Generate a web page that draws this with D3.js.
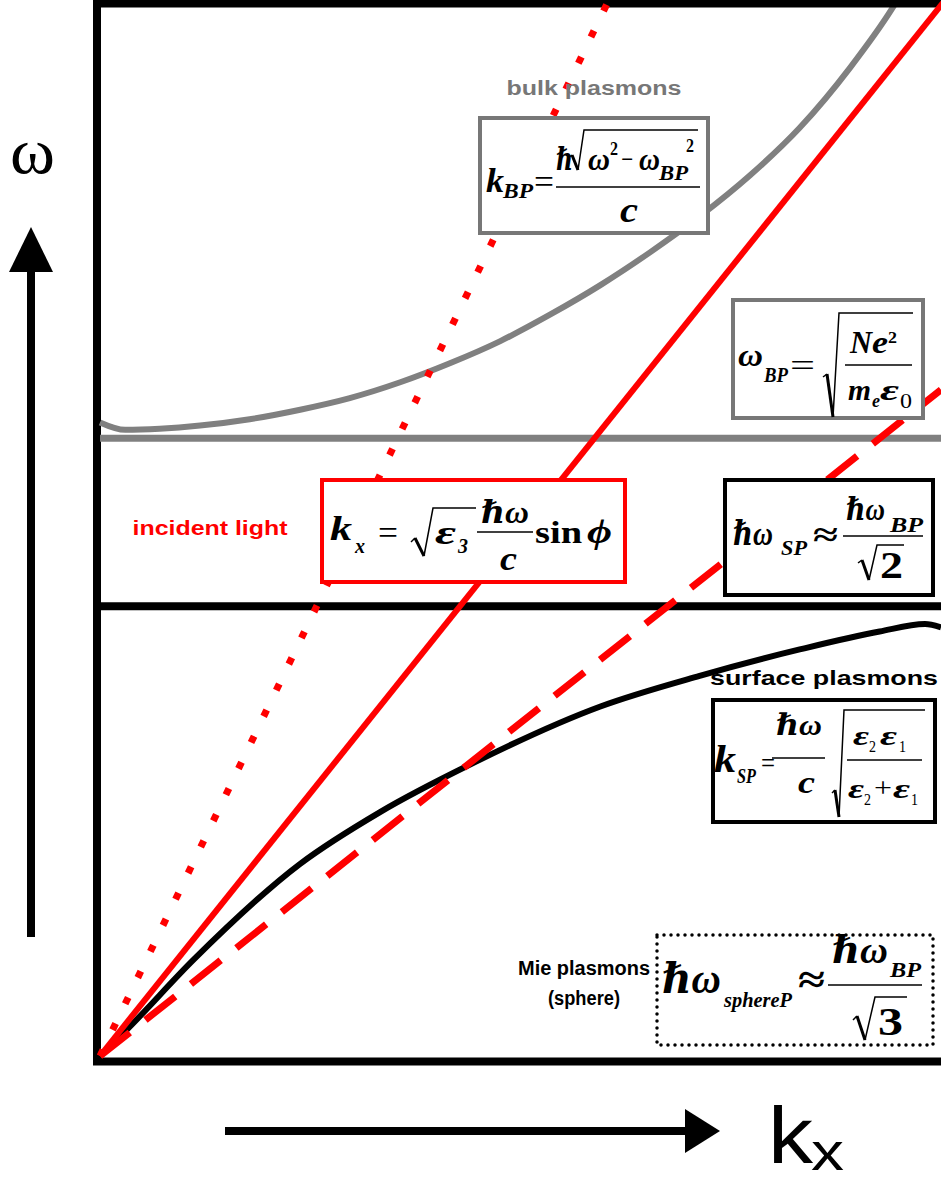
<!DOCTYPE html>
<html><head><meta charset="utf-8">
<script src="https://cdn.jsdelivr.net/npm/d3@7"></script>
<style>html,body{margin:0;padding:0;background:#fff;}svg{display:block;}</style>
</head><body>
<svg id="c" width="941" height="1183"></svg>
<script>
// ---- data (k_x, omega in arbitrary units) ----
const kDomain = [0, 10];
const omegaDomain = [0, 10];
const lightSolid  = [[0, 0], [10.05, 10]];   // incident light
const lightDotted = [[0, 0], [6.05, 10]];    // light line, steep
const lightDashed = [[0, 0], [10, 6.31]];    // light line, shallow
const bulkLevel = 5.85;                        // omega_BP
const surfaceLevel = 4.26;                     // omega_SP
const bulkCurve = [[0.0, 6.00], [0.30, 5.93], [0.71, 5.94], [1.19, 5.97], [1.78, 6.03],
  [2.38, 6.12], [2.97, 6.23], [3.57, 6.38], [4.16, 6.56], [4.76, 6.77], [5.35, 7.02],
  [5.95, 7.30], [6.54, 7.61], [7.13, 7.95], [7.73, 8.34], [8.32, 8.79], [8.92, 9.36],
  [9.42, 9.92], [9.52, 10.05]];
const surfaceCurve = [[0, 0], [0.32, 0.25], [1.11, 0.91], [2.38, 1.82], [3.33, 2.31],
  [4.40, 2.76], [5.95, 3.31], [7.13, 3.60], [8.32, 3.85], [9.27, 4.02], [9.81, 4.09], [10.0, 4.06]];

const svg = d3.select('#c');
const x = d3.scaleLinear().domain(kDomain).range([100, 941]);
const y = d3.scaleLinear().domain(omegaDomain).range([1056, 0]);
const line = d3.line().x(d => x(d[0])).y(d => y(d[1]));
const smooth = d3.line().x(d => x(d[0])).y(d => y(d[1])).curve(d3.curveMonotoneX);

// frame
const frame = svg.append('g').attr('stroke', '#000').attr('stroke-width', 8);
frame.append('line').attr('x1', 97).attr('x2', 97).attr('y1', 0).attr('y2', 1065);
frame.append('line').attr('x1', 93).attr('x2', 941).attr('y1', 1061.5).attr('y2', 1061.5);

// horizontal levels
svg.append('line').attr('x1', x(0)).attr('x2', x(10)).attr('y1', y(bulkLevel)).attr('y2', y(bulkLevel))
  .attr('stroke', '#808080').attr('stroke-width', 7);
svg.append('line').attr('x1', x(0)).attr('x2', x(10)).attr('y1', y(surfaceLevel)).attr('y2', y(surfaceLevel))
  .attr('stroke', '#000').attr('stroke-width', 8);

// curves
svg.append('path').attr('d', smooth(bulkCurve)).attr('fill', 'none').attr('stroke', '#808080').attr('stroke-width', 6);
svg.append('path').attr('d', smooth(surfaceCurve)).attr('fill', 'none').attr('stroke', '#000').attr('stroke-width', 6);
// top border over curve ends
svg.append('line').attr('x1', 93).attr('x2', 941).attr('y1', 3.5).attr('y2', 3.5).attr('stroke', '#000').attr('stroke-width', 8);

// light lines
svg.append('path').attr('d', line(lightDotted)).attr('fill', 'none').attr('stroke', '#ff0000')
  .attr('stroke-width', 7).attr('stroke-dasharray', '7 22');
svg.append('path').attr('d', line(lightDashed)).attr('fill', 'none').attr('stroke', '#ff0000')
  .attr('stroke-width', 7).attr('stroke-dasharray', '38 20');
svg.append('path').attr('d', line(lightSolid)).attr('fill', 'none').attr('stroke', '#ff0000')
  .attr('stroke-width', 6);

// boxes
function box(x0, y0, x1, y1, col, dash) {
  const r = svg.append('rect').attr('x', x0).attr('y', y0).attr('width', x1 - x0).attr('height', y1 - y0)
    .attr('fill', '#fff').attr('stroke', col).attr('stroke-width', dash ? 3.5 : 4);
  if (dash) r.attr('stroke-dasharray', '0 7').attr('stroke-linecap', 'round');
}
box(480, 118, 708, 233, '#777');
box(733, 300, 923, 418, '#777');
box(322, 480, 625, 582, '#ff0000');
box(725, 480, 933, 595, '#000');
box(713, 700, 935, 822, '#000');
box(657, 935, 933, 1045, '#000', true);

// text helpers
const SERIF = '"Liberation Serif","Times New Roman","DejaVu Serif",serif';
const SANS = '"Liberation Sans",Arial,"DejaVu Sans",sans-serif';
function T(x0, y0, s, size, w, o = {}) {
  const t = svg.append('text').attr('x', x0).attr('y', y0).attr('font-size', size)
    .attr('font-family', o.fam || SERIF).attr('font-weight', o.w || 'bold')
    .attr('font-style', o.st || 'italic').attr('fill', o.f || '#000')
    .attr('text-anchor', o.a || 'start').text(s);
  if (w) t.attr('textLength', w).attr('lengthAdjust', 'spacingAndGlyphs');
  return t;
}
function bar(x0, x1, yy) {
  svg.append('line').attr('x1', x0).attr('x2', x1).attr('y1', yy).attr('y2', yy)
    .attr('stroke', '#000').attr('stroke-width', 1.6);
}
function rad(p) { // p: [tick0, tick1, bottom, top, end]
  svg.append('path').attr('d', `M${p[0]}L${p[1]}`).attr('stroke', '#000').attr('stroke-width', 1.5).attr('fill', 'none');
  svg.append('path').attr('d', `M${p[1]}L${p[2]}`).attr('stroke', '#000').attr('stroke-width', 3).attr('fill', 'none');
  svg.append('path').attr('d', `M${p[2]}L${p[3]}L${p[4]}`).attr('stroke', '#000').attr('stroke-width', 1.5).attr('fill', 'none');
}
const up = {st: 'normal', w: 'normal'};
const ub = {st: 'normal', w: 'bold'};
const lab = (c, a) => ({fam: SANS, st: 'normal', f: c, a: a || 'middle'});

// labels
T(594, 95, 'bulk plasmons', 20, 175, lab('#777'));
T(824, 685, 'surface plasmons', 21, 228, lab('#000'));
T(210, 535, 'incident light', 21, 155, lab('#ff0000'));
T(584, 975, 'Mie plasmons', 20, 132, lab('#000'));
T(584, 1005, '(sphere)', 20, 72, lab('#000'));

// eq1 k_BP
T(486, 192, 'k', 34, 18); T(503, 198, 'BP', 22, 30);
T(534, 193, '=', 34, 20, up);
T(556, 170, 'ℏ', 32, 17);
rad([[568, 158], [572, 155], [578, 170], [584, 130], [698, 130]]);
T(588, 170, 'ω', 32, 22); T(610, 155, '2', 18, 8, ub);
T(621, 170, '−', 32, 12, up);
T(639, 170, 'ω', 32, 21); T(659, 180, 'BP', 20, 29); T(686, 152, '2', 18, 8, ub);
bar(556, 700, 187);
T(620, 222, 'c', 36, 18);

// eq2 omega_BP
T(738, 366, 'ω', 32, 25); T(764, 382, 'BP', 20, 24);
T(790, 376, '=', 32, 25, up);
rad([[823, 377], [827, 374], [833, 417], [839, 313], [913, 313]]);
T(850, 353, 'N', 32, 22); T(872, 353, 'e', 32, 16); T(888, 343, '2', 16, 9, ub);
bar(845, 912, 365);
T(848, 400, 'm', 30, 23); T(872, 407, 'e', 18, 8); T(880, 400, 'ε', 30, 19); T(900, 408, '0', 20, 12, up);

// eq3 k_x
T(330, 540, 'k', 34, 22); T(355, 553, 'x', 22, 10);
T(378, 544, '=', 34, 20, up);
rad([[411, 542], [415, 538], [424, 556], [433, 508], [476, 508]]);
T(435, 544, 'ε', 34, 21); T(458, 553, '3', 22, 10);
T(481, 523, 'ℏω', 32, 48);
bar(477, 533, 532);
T(500, 570, 'c', 34, 17);
T(535, 543, 'sin', 32, 47, ub);
T(587, 543, 'ϕ', 34, 25);

// eq4 omega_SP
T(733, 545, 'ℏω', 34, 40); T(781, 555, 'SP', 22, 26);
T(813, 546, '≈', 34, 25, ub);
T(846, 520, 'ℏω', 32, 39); T(890, 532, 'BP', 20, 33);
bar(843, 923, 536);
rad([[858, 563], [862, 560], [869, 580], [877, 545], [904, 545]]);
T(880, 578, '2', 38, 23, ub);

// eq5 k_SP
T(714, 772, 'k', 38, 22); T(737, 783, 'SP', 22, 19);
T(761, 773, '=', 30, 14, up);
T(776, 735, 'ℏω', 30, 46);
bar(772, 825, 758);
T(798, 793, 'c', 32, 17);
rad([[832, 793], [835, 790], [839, 817], [844, 710], [925, 710]]);
T(853, 745, 'ε', 28, 16); T(869, 752, '2', 16, 7, up); T(880, 745, 'ε', 28, 17); T(899, 752, '1', 16, 7, up);
bar(847, 922, 760);
T(848, 798, 'ε', 28, 16); T(864, 805, '2', 16, 7, up); T(874, 797, '+', 28, 18, up);
T(893, 798, 'ε', 28, 17); T(911, 805, '1', 16, 7, up);

// eq6 Mie
T(662, 993, 'ℏω', 42, 59); T(724, 1007, 'sphereP', 22, 68);
T(798, 993, '≈', 40, 27, ub);
T(832, 963, 'ℏω', 38, 56); T(890, 977, 'BP', 22, 31);
bar(828, 922, 985);
rad([[853, 1020], [857, 1016], [865, 1040], [875, 997], [907, 997]]);
T(878, 1035, '3', 40, 25, ub);

// axis arrows
svg.append('line').attr('x1', 31).attr('x2', 31).attr('y1', 268).attr('y2', 937).attr('stroke', '#000').attr('stroke-width', 8);
svg.append('path').attr('d', 'M31,227L9,272L53,272Z').attr('fill', '#000');
T(10, 173, 'ω', 66, 45, up);
svg.append('line').attr('x1', 225).attr('x2', 688).attr('y1', 1131).attr('y2', 1131).attr('stroke', '#000').attr('stroke-width', 8);
svg.append('path').attr('d', 'M720,1131L685,1109L685,1153Z').attr('fill', '#000');
T(768, 1163, 'k', 80, 45, {fam: SANS, st: 'normal', w: 'normal'});
T(811, 1170, 'x', 54, 33, {fam: SANS, st: 'normal', w: 'normal'});
</script>
</body></html>
